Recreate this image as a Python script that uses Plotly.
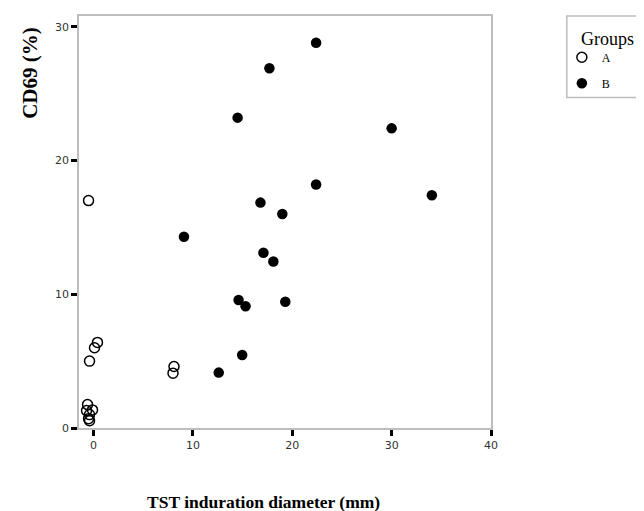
import plotly.graph_objects as go

# Group A (open circles)
A_x = [-0.5, 0.4, 0.1, -0.4, 8.1, 8.0, -0.6, -0.7, -0.1, -0.4, -0.5, -0.4]
A_y = [17.0, 6.4, 6.0, 5.0, 4.6, 4.1, 1.75, 1.3, 1.35, 1.0, 0.7, 0.55]

# Group B (filled circles)
B_x = [22.4, 17.7, 14.5, 30.0, 22.4, 34.05, 16.8, 19.0, 9.1, 17.1, 18.1, 14.6, 15.3, 19.3, 14.96, 12.6]
B_y = [28.8, 26.9, 23.2, 22.4, 18.2, 17.4, 16.85, 16.0, 14.3, 13.1, 12.45, 9.57, 9.1, 9.44, 5.46, 4.14]

x_ticks = [0, 10, 20, 30, 40]
y_ticks = [0, 10, 20, 30]

serif = "Liberation Serif"
sans = "DejaVu Sans"

fig = go.Figure()
fig.add_trace(go.Scatter(
    x=A_x, y=A_y, mode="markers", name="A", legendgroup="A",
    marker=dict(symbol="circle-open", size=10, color="black", line=dict(width=1.5, color="black")),
))
fig.add_trace(go.Scatter(
    x=B_x, y=B_y, mode="markers", name="B", legendgroup="B",
    marker=dict(symbol="circle", size=10.5, color="black"),
))

axis_common = dict(
    showgrid=False, zeroline=False, showline=True, linecolor="#bdbdbd", linewidth=1.5,
    mirror=True, ticks="outside", tickcolor="black", tickwidth=3, ticklen=6,
    tickfont=dict(family=sans, size=11, color="#333333"),
)

fig.update_xaxes(range=[-1.46, 40], tickvals=x_ticks, **axis_common)
fig.update_yaxes(range=[0, 30.8], tickvals=y_ticks, **axis_common)

fig.update_layout(
    width=636, height=503,
    margin=dict(l=71, r=153, t=6, b=83),
    plot_bgcolor="white", paper_bgcolor="white",
    showlegend=True,
    legend=dict(
        x=1.172, y=0.935, xanchor="left", yanchor="top",
        font=dict(family=serif, size=12, color="black"),
        bgcolor="rgba(0,0,0,0)", borderwidth=0,
        itemwidth=30, tracegroupgap=7,
    ),
    shapes=[dict(type="rect", xref="paper", yref="paper",
                 x0=1.184, x1=1.7, y0=0.802, y1=1.0,
                 line=dict(color="#bdbdbd", width=1.5))],
    annotations=[
        dict(text="Groups", xref="paper", yref="paper",
             x=(571 - 71) / 412, y=(419.7 - 29) / 413.7, showarrow=False,
             xanchor="left", yanchor="middle",
             font=dict(family=serif, size=18, color="black")),
        dict(text="<b>CD69 (%)</b>", xref="paper", yref="paper",
             x=-0.119, y=0.862, textangle=-90, showarrow=False,
             xanchor="center", yanchor="middle",
             font=dict(family=serif, size=21, color="black")),
        dict(text="<b>TST induration diameter (mm)</b>", xref="paper", yref="paper",
             x=0.447, y=-0.18, showarrow=False,
             xanchor="center", yanchor="middle",
             font=dict(family=serif, size=17.5, color="black")),
    ],
)

fig.write_html("out.html")
